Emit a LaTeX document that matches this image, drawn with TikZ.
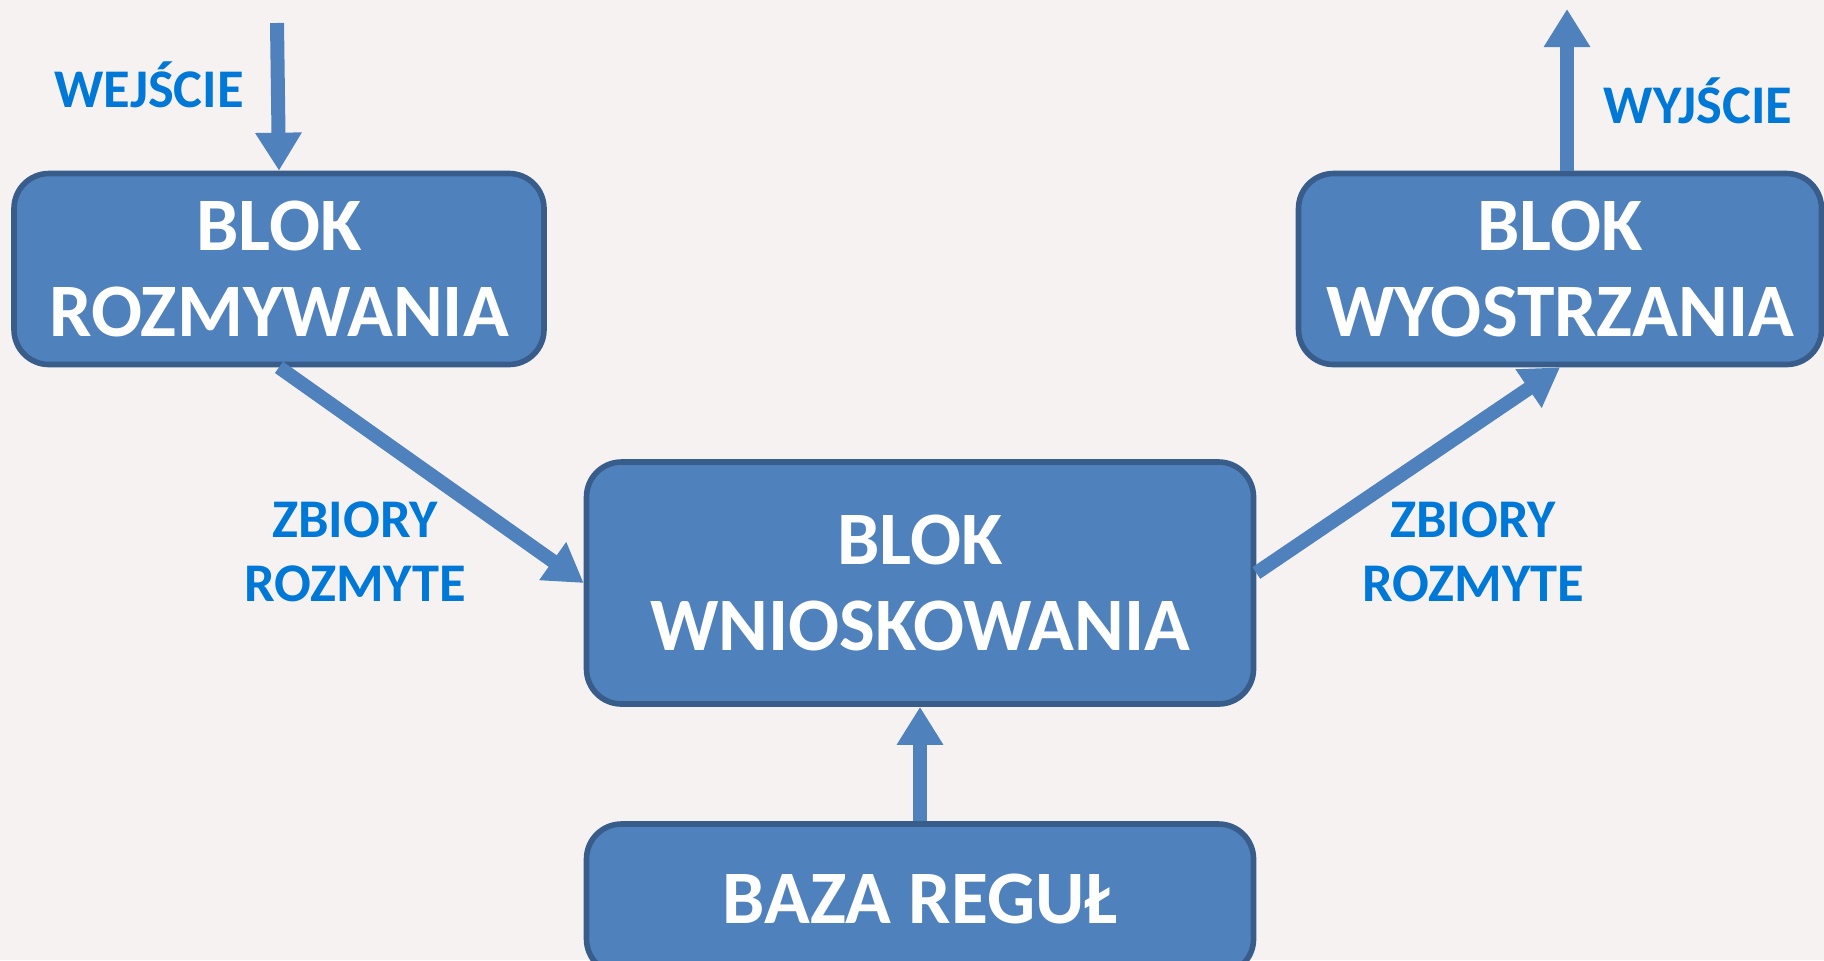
\documentclass[tikz,border=0pt]{standalone}
\usepackage{fontspec}
\setmainfont{Carlito}
\usetikzlibrary{arrows.meta}
\definecolor{boxfill}{RGB}{79,129,189}
\definecolor{boxline}{RGB}{56,93,138}
\definecolor{labelblue}{RGB}{0,120,215}
\definecolor{bgcol}{RGB}{246,242,241}

\begin{document}
\begin{tikzpicture}[x=0.1mm, y=-0.1mm]


\tikzset{blok/.style={fill=boxfill, draw=boxline, line width=1.6pt, rounded corners=3.5mm, shape=rectangle, text=white, align=center, font=\fontsize{21.5}{24.5}\selectfont\bfseries}}
\tikzset{opis/.style={text=labelblue, align=center, font=\fontsize{15.5}{18.2}\selectfont\bfseries}}
\tikzset{strzalka/.style={draw=boxfill, line width=1.4mm, -{Triangle[length=3.8mm, width=4.4mm]}}}
\fill[bgcol] (0,0) rectangle (1824,960);
\useasboundingbox (0,0) rectangle (1824,960);
\node[blok, minimum width=53mm, minimum height=19.1mm] (rozm) at (279,269) {BLOK\\ROZMYWANIA};
\node[blok, minimum width=52.3mm, minimum height=19.1mm] (wyos) at (1560,269) {BLOK\\WYOSTRZANIA};
\node[blok, minimum width=66.7mm, minimum height=24.2mm] (wnio) at (920,583) {BLOK\\WNIOSKOWANIA};
\node[blok, minimum width=66.7mm, minimum height=15mm] (baza) at (920,899) {BAZA REGUŁ};
\coordinate (wej) at (277,23);
\coordinate (wyj) at (1567,9);
\node[opis] (lwej) at (149,85) {WEJŚCIE};
\node[opis] (lwyj) at (1698,101) {WYJŚCIE};
\node[opis] (zb1) at (355,552) {ZBIORY\\ROZMYTE};
\node[opis] (zb2) at (1473,552) {ZBIORY\\ROZMYTE};
\draw[strzalka] (wej) -- (rozm.north);
\draw[strzalka] (wyos.north -| wyj) -- (wyj);
\draw[strzalka] (rozm.south) -- (wnio.west);
\draw[strzalka] ([yshift=1mm]wnio.east) -- (wyos.south);
\draw[strzalka] (baza.north) -- (wnio.south);

\end{tikzpicture}
\end{document}
